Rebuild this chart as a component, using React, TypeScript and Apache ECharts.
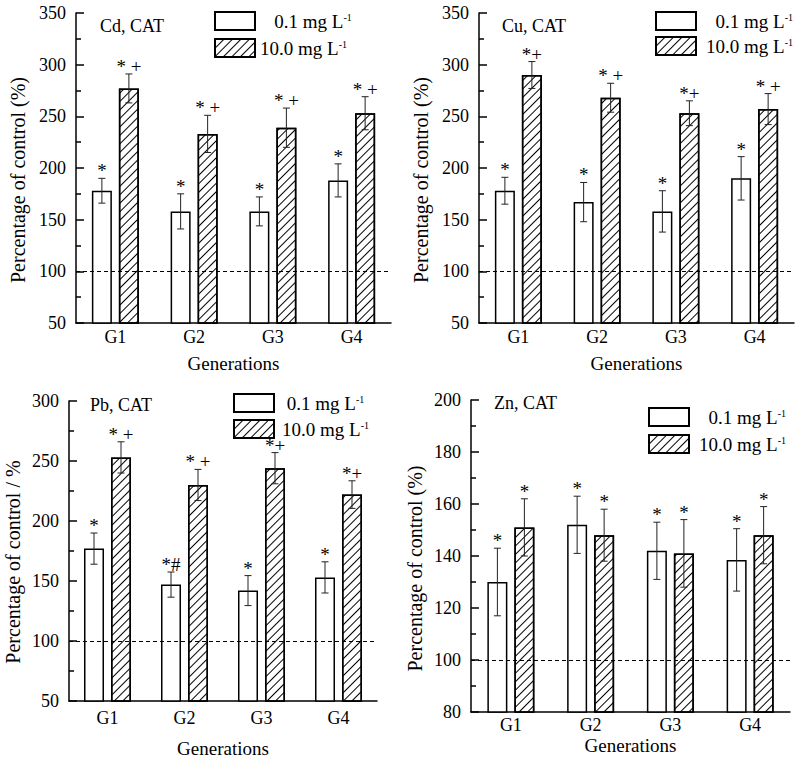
import React, { useEffect, useRef } from 'react';
import * as echarts from 'echarts';

// ---------- data ----------
const generations = ['G1', 'G2', 'G3', 'G4'];
const seriesNames = ['0.1', '10.0'];

const cdLow = [178, 158, 158, 188];
const cdLowErr = [12, 17, 14, 16];
const cdHigh = [277, 233, 239, 253];
const cdHighErr = [14, 18, 19, 16];
const cdLowMarks = ['*', '*', '*', '*'];
const cdHighMarks = ['* +', '* +', '* +', '* +'];

const cuLow = [178, 167, 158, 190];
const cuLowErr = [13, 19, 20, 21];
const cuHigh = [290, 268, 253, 257];
const cuHighErr = [13, 14, 12, 15];
const cuLowMarks = ['*', '*', '*', '*'];
const cuHighMarks = ['*+', '* +', '*+', '* +'];

const pbLow = [177, 147, 142, 153];
const pbLowErr = [13, 10.5, 12.5, 13];
const pbHigh = [253, 230, 244, 222];
const pbHighErr = [13, 13, 13, 11.5];
const pbLowMarks = ['*', '*#', '*', '*'];
const pbHighMarks = ['* +', '* +', '*+', '*+'];

const znLow = [130, 152, 142, 138.5];
const znLowErr = [13, 11, 11, 12];
const znHigh = [151, 148, 141, 148];
const znHighErr = [11, 10, 13, 11];
const znLowMarks = ['*', '*', '*', '*'];
const znHighMarks = ['*', '*', '*', '*'];

const cdY = { min: 50, max: 350, step: 50 };
const cuY = { min: 50, max: 350, step: 50 };
const pbY = { min: 50, max: 300, step: 50 };
const znY = { min: 80, max: 200, step: 20 };
const controlLevel = 100;

// ---------- styling / layout ----------
const FONT = 'Liberation Serif';
const BAR_W = 20;
const BAR_GAP = 7;
const HATCH = {
  symbol: 'rect',
  symbolSize: 1,
  color: '#000',
  dashArrayX: [1, 0],
  dashArrayY: [1, 4.5],
  rotation: -Math.PI / 4,
};

const panels = [
  {
    title: 'Cd, CAT', yName: 'Percentage of control (%)', y: cdY,
    low: cdLow, lowErr: cdLowErr, high: cdHigh, highErr: cdHighErr, lowMarks: cdLowMarks, highMarks: cdHighMarks,
    grid: { left: 76, top: 13, width: 315, height: 310 },
    titlePos: { left: 100, top: 17 },
    legendPos: { left: 214, top: 11, gap: 7, pad: 0, spaces: 3 },
    yNameGap: 48, yNameShift: 24, xNameGap: 31, xLabelMargin: 5,
  },
  {
    title: 'Cu, CAT', yName: 'Percentage of control (%)', y: cuY,
    low: cuLow, lowErr: cuLowErr, high: cuHigh, highErr: cuHighErr, lowMarks: cuLowMarks, highMarks: cuHighMarks,
    grid: { left: 479, top: 13, width: 315, height: 310 },
    titlePos: { left: 502, top: 17 },
    legendPos: { left: 655, top: 11, gap: 5, pad: 5, spaces: 2 },
    yNameGap: 48, yNameShift: 24, xNameGap: 31, xLabelMargin: 5,
  },
  {
    title: 'Pb, CAT', yName: 'Percentage of control / %', y: pbY,
    low: pbLow, lowErr: pbLowErr, high: pbHigh, highErr: pbHighErr, lowMarks: pbLowMarks, highMarks: pbHighMarks,
    grid: { left: 69, top: 401, width: 308, height: 300 },
    titlePos: { left: 90, top: 396 },
    legendPos: { left: 233, top: 393, gap: 6, pad: 3, spaces: 1 },
    yNameGap: 46, yNameShift: 22, xNameGap: 38, xLabelMargin: 8,
  },
  {
    title: 'Zn, CAT', yName: 'Percentage of control (%)', y: znY,
    low: znLow, lowErr: znLowErr, high: znHigh, highErr: znHighErr, lowMarks: znLowMarks, highMarks: znHighMarks,
    grid: { left: 471, top: 400, width: 319, height: 312 },
    titlePos: { left: 494, top: 394 },
    legendPos: { left: 648, top: 407, gap: 7, pad: 5, spaces: 2 },
    yNameGap: 46, yNameShift: 25, xNameGap: 24, xLabelMargin: 4,
  },
];

function errorSeries(gridIdx: number, name: string, values: number[], errs: number[], marks: string[], sign: number) {
  const offset = (BAR_W + BAR_GAP) / 2;
  return {
    type: 'custom',
    name: name + '-err',
    xAxisIndex: gridIdx,
    yAxisIndex: gridIdx,
    z: 5,
    silent: true,
    data: values.map((v, i) => [i, v, errs[i]]),
    encode: { x: 0, y: 1 },
    renderItem: (params: any, api: any) => {
      const idx = api.value(0);
      const val = api.value(1);
      const err = api.value(2);
      const c = api.coord([idx, val]);
      const top = api.coord([idx, val + err]);
      const bot = api.coord([idx, val - err]);
      const x = c[0] + sign * offset;
      const cap = 3.5;
      const st = { stroke: '#222', lineWidth: 1 };
      return {
        type: 'group',
        children: [
          { type: 'line', shape: { x1: x, y1: top[1], x2: x, y2: bot[1] }, style: st },
          { type: 'line', shape: { x1: x - cap, y1: top[1], x2: x + cap, y2: top[1] }, style: st },
          { type: 'line', shape: { x1: x - cap, y1: bot[1], x2: x + cap, y2: bot[1] }, style: st },
          {
            type: 'text',
            x: x,
            y: top[1] + 2,
            style: {
              text: marks[params.dataIndex],
              fontFamily: FONT,
              fontSize: 19,
              fill: '#000',
              align: 'center',
              verticalAlign: 'bottom',
            },
          },
        ],
      };
    },
  };
}

function buildOption() {
  const grid: any[] = [];
  const xAxis: any[] = [];
  const yAxis: any[] = [];
  const series: any[] = [];
  const legend: any[] = [];
  const title: any[] = [];
  panels.forEach((p, i) => {
    grid.push({ ...p.grid });
    title.push({
      text: p.title,
      left: p.titlePos.left,
      top: p.titlePos.top,
      padding: 0,
      textStyle: { fontFamily: FONT, fontSize: 18, fontWeight: 'normal', color: '#000' },
    });
    const sp = ' '.repeat(p.legendPos.spaces);
    legend.push({
      left: p.legendPos.left,
      top: p.legendPos.top,
      orient: 'vertical',
      padding: 0,
      itemWidth: 40,
      itemHeight: 18,
      itemGap: p.legendPos.gap,
      icon: 'rect',
      selectedMode: false,
      data: seriesNames,
      formatter: (name: string) => (name === seriesNames[0] ? `${sp}${name} mg L{s|-1}` : `${name} mg L{s|-1}`),
      textStyle: {
        fontFamily: FONT,
        fontSize: 19,
        fontWeight: 'normal',
        color: '#000',
        lineHeight: 18,
        padding: [0, 0, 0, p.legendPos.pad],
        rich: {
          s: { fontFamily: FONT, fontSize: 10, verticalAlign: 'top', lineHeight: 12, color: '#000' },
        },
      },
    });
    xAxis.push({
      gridIndex: i,
      type: 'category',
      data: generations,
      axisLine: { lineStyle: { color: '#000', width: 1.5 } },
      axisTick: { show: false },
      axisLabel: { color: '#000', fontFamily: FONT, fontSize: 18, fontWeight: 'normal', margin: p.xLabelMargin },
      name: 'Generations',
      nameLocation: 'middle',
      nameGap: p.xNameGap,
      nameTextStyle: { color: '#000', fontFamily: FONT, fontSize: 19, fontWeight: 'normal' },
    });
    yAxis.push({
      gridIndex: i,
      type: 'value',
      min: p.y.min,
      max: p.y.max,
      interval: p.y.step,
      axisLine: { show: true, lineStyle: { color: '#000', width: 1.5 } },
      axisTick: { show: true, inside: true, length: 8, lineStyle: { color: '#000', width: 1.5 } },
      minorTick: { show: true, splitNumber: 2, length: 5, lineStyle: { color: '#000', width: 1.5 } },
      splitLine: { show: false },
      axisLabel: { color: '#000', fontFamily: FONT, fontSize: 18, fontWeight: 'normal', margin: 10 },
      name: p.yName,
      nameLocation: 'middle',
      nameGap: p.yNameGap,
      nameTextStyle: { color: '#000', fontFamily: FONT, fontSize: 20, fontWeight: 'normal', padding: [0, p.yNameShift, 0, 0] },
    });
    series.push({
      type: 'bar',
      name: seriesNames[0],
      xAxisIndex: i,
      yAxisIndex: i,
      data: p.low,
      barWidth: BAR_W,
      barGap: `${(BAR_GAP / BAR_W) * 100}%`,
      itemStyle: { color: '#fff', borderColor: '#000', borderWidth: 1.5 },
      markLine: {
        silent: true,
        symbol: ['none', 'none'],
        label: { show: false },
        lineStyle: { type: [4, 3], color: '#000', width: 1 },
        data: [{ yAxis: controlLevel }],
      },
    });
    series.push({
      type: 'bar',
      name: seriesNames[1],
      xAxisIndex: i,
      yAxisIndex: i,
      data: p.high,
      barWidth: BAR_W,
      barGap: `${(BAR_GAP / BAR_W) * 100}%`,
      itemStyle: { color: '#fff', borderColor: '#000', borderWidth: 1.5, decal: HATCH },
    });
    series.push(errorSeries(i, seriesNames[0], p.low, p.lowErr, p.lowMarks, -1));
    series.push(errorSeries(i, seriesNames[1], p.high, p.highErr, p.highMarks, 1));
  });
  return {
    animation: false,
    backgroundColor: '#fff',
    textStyle: { fontFamily: FONT },
    title,
    legend,
    grid,
    xAxis,
    yAxis,
    series,
  };
}

export default function App() {
  const ref = useRef<HTMLDivElement>(null);
  useEffect(() => {
    if (!ref.current) return;
    const chart = echarts.init(ref.current, null, { renderer: 'svg' });
    chart.setOption(buildOption() as any);
    return () => chart.dispose();
  }, []);
  return (
    <div
      ref={ref}
      style={{ position: 'fixed', left: 0, top: 0, width: 800, height: 763, background: '#fff' }}
    />
  );
}
